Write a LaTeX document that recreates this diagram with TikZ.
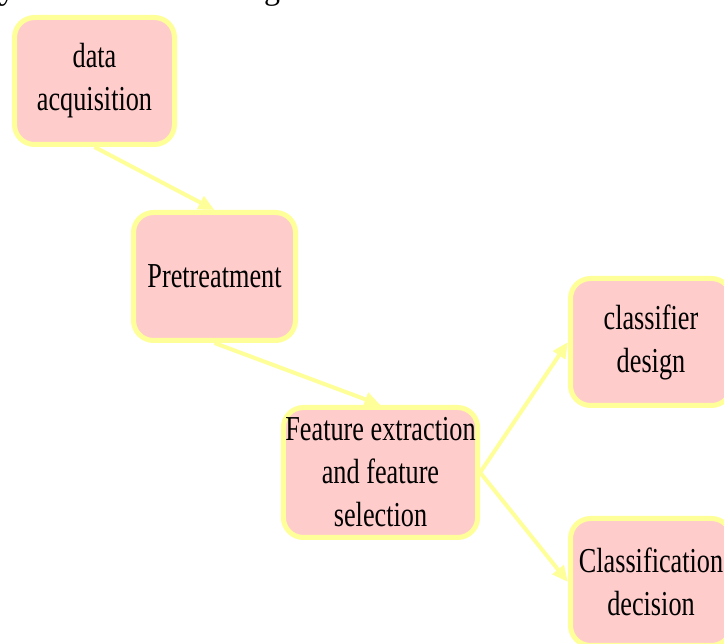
\documentclass[tikz,border=0pt]{standalone}
\usepackage{fontspec}
\setmainfont{Liberation Serif}
\newfontfamily\boxfont[FakeStretch=0.75]{Liberation Serif}
\usetikzlibrary{arrows.meta}

\definecolor{boxfill}{HTML}{FFCCCC}
\definecolor{boxedge}{HTML}{FFFF99}

\tikzset{
  stage/.style={draw=boxedge, fill=boxfill, line width=5pt, rounded corners=20pt,
    align=center, inner sep=2pt, text=black,
    font=\boxfont\fontsize{35}{43}\selectfont},
  flow/.style={draw=boxedge, line width=4pt,
    -{Triangle[length=16pt, width=14pt]}},
}

\begin{document}
\begin{tikzpicture}[x=1pt, y=1pt]
  \useasboundingbox (0,0) rectangle (724,-644);
  \clip (0,0) rectangle (724,-644);

  % tail of the running text above the chart
  \node[anchor=base west, inner sep=0, font=\fontsize{32}{38}\selectfont]
    (lead) at (-1,0) {ystem is shown in Figure 7.};

  % processing stages
  \node[stage, minimum width=160pt, minimum height=127pt] (acq)  at (94.5,-81)    {data\\acquisition};
  \node[stage, minimum width=162pt, minimum height=128pt] (pre)  at (214.5,-276.5) {Pretreatment};
  \node[stage, minimum width=192pt, minimum height=130pt] (feat) at (380.5,-472.5) {Feature extraction\\and feature\\selection};
  \node[stage, minimum width=161pt, minimum height=127pt] (cls)  at (651,-342)    {classifier\\design};
  \node[stage, minimum width=161pt, minimum height=127pt] (dec)  at (651,-582)    {Classification\\decision};

  % connectors
  \draw[flow] (acq.south) -- (pre.north);
  \draw[flow] (pre.south) -- (feat.north);
  \draw[flow] (feat.east) -- (cls.west);
  \draw[flow] (feat.east) -- (dec.west);
\end{tikzpicture}
\end{document}
